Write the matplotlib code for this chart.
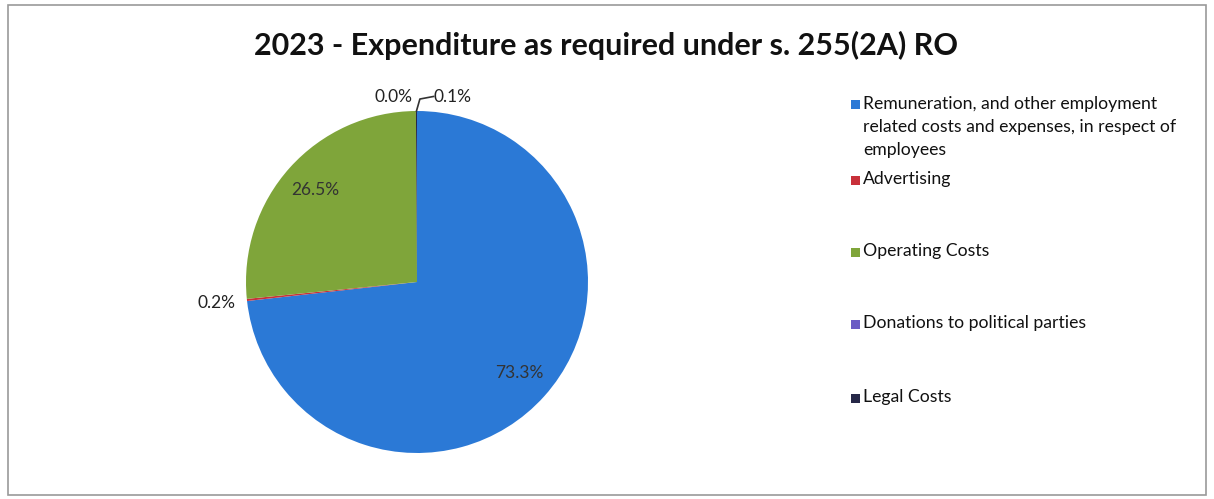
import matplotlib
matplotlib.use("Agg")
import matplotlib.pyplot as plt
from matplotlib.patches import Rectangle
import numpy as np

title = "2023 - Expenditure as required under s. 255(2A) RO"
categories = [
    "Remuneration, and other employment\nrelated costs and expenses, in respect of\nemployees",
    "Advertising",
    "Operating Costs",
    "Donations to political parties",
    "Legal Costs",
]
values = [73.3, 0.2, 26.5, 0.0, 0.1]
labels = ["73.3%", "0.2%", "26.5%", "0.0%", "0.1%"]
colors = ["#2B79D6", "#C8303A", "#7FA53A", "#6A5BC4", "#262848"]

plt.rcParams['font.family'] = ['Lato', 'DejaVu Sans']

fig = plt.figure(figsize=(12.14, 4.99), dpi=100)
fig.patches.append(Rectangle((0.007, 0.008), 0.986, 0.982, transform=fig.transFigure,
                             fill=False, edgecolor="#9a9a9a", linewidth=1.2))

fig.text(0.499, 0.908, title, ha="center", va="center", fontsize=22, fontweight="bold",
         color="#111111")

# pie axes: center (417,282) radius 171 px
W, H = 1214, 499
cx, cy, r = 417, 282, 171
ax = fig.add_axes([(cx - r) / W, 1 - (cy + r) / H, 2 * r / W, 2 * r / H])
wedges, _ = ax.pie(values, colors=colors, startangle=90, counterclock=False,
                   wedgeprops=dict(linewidth=0.6, edgecolor="#ffffff00"))
ax.set_xlim(-1, 1)
ax.set_ylim(-1, 1)
ax.set_aspect("equal")
ax.axis("off")

fs = 12.5
for i, w in enumerate(wedges):
    mid = np.deg2rad((w.theta1 + w.theta2) / 2)
    x, y = np.cos(mid), np.sin(mid)
    if i in (0, 2):
        ax.text(0.8 * x, 0.8 * y, labels[i], ha="center", va="center", fontsize=fs,
                color="#333333")
    elif i == 1:
        ax.text(1.18 * x, 1.18 * y, labels[i], ha="center", va="center", fontsize=fs,
                color="#222222")
    elif i == 3:
        ax.text(x - 0.13, 1.08 * y, labels[i], ha="center", va="center", fontsize=fs,
                color="#222222")
    else:
        ax.plot([x, x + 0.02, x + 0.1], [y, y + 0.07, y + 0.085], color="#333333",
                lw=1.2, clip_on=False)
        ax.text(x + 0.1, 1.08 * y, labels[i], ha="left", va="center", fontsize=fs,
                color="#222222")

# legend
leg_y = [105, 180, 252, 324, 398]
for lab, col, yy in zip(categories, colors, leg_y):
    fig.patches.append(Rectangle((851 / W, 1 - (yy + 4.5) / H), 9 / W, 9 / H,
                                 transform=fig.transFigure, facecolor=col,
                                 edgecolor="none"))
    fig.text(863 / W, 1 - (yy - 9) / H, lab, ha="left", va="top", fontsize=12.7,
             color="#111111", linespacing=1.55)

fig.savefig("out.png", dpi=100)
